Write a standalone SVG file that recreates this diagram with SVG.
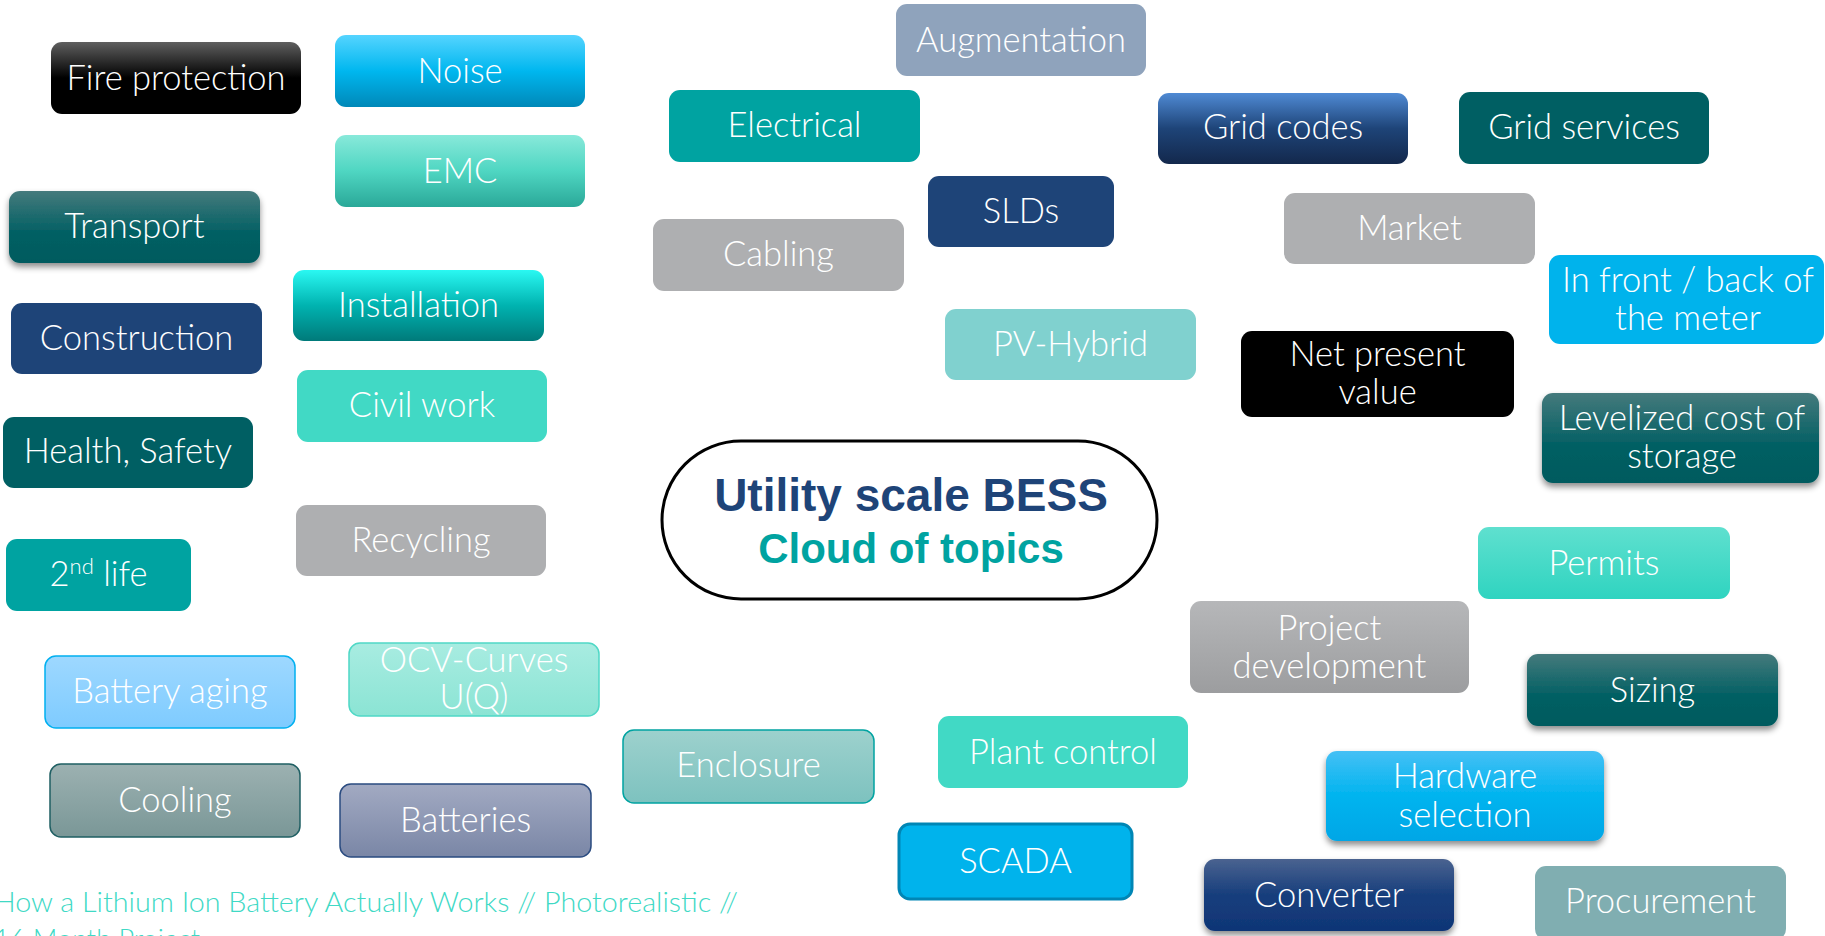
<svg xmlns="http://www.w3.org/2000/svg" width="1825" height="936" viewBox="0 0 1825 936">
<style>
.t{fill:#fff;font-family:Lato,"Liberation Sans",sans-serif;font-weight:300;font-size:34.5px;text-anchor:middle}
.h1{font-family:"Liberation Sans",Arial,sans-serif;font-weight:bold;font-size:46px;fill:#1e4478;text-anchor:middle}
.h2{font-family:"Liberation Sans",Arial,sans-serif;font-weight:bold;font-size:42px;fill:#00a3a1;text-anchor:middle}
.foot{font-family:Lato,"Liberation Sans",sans-serif;font-weight:300;font-size:27px;fill:#40d9c5}
rect{rx:11px;ry:11px}
.sh{filter:url(#shadow)}
</style>
<defs>
<filter id="shadow" x="-10%" y="-20%" width="120%" height="150%"><feDropShadow dx="0" dy="4" stdDeviation="3" flood-color="#000" flood-opacity="0.45"/></filter>
<linearGradient id="gTeal" x1="0" y1="0" x2="0" y2="1"><stop offset="0" stop-color="#457a7c"/><stop offset="0.6" stop-color="#005f63"/><stop offset="1" stop-color="#005a5e"/></linearGradient>
<linearGradient id="gBlack" x1="0" y1="0" x2="0" y2="1"><stop offset="0" stop-color="#5f5f5f"/><stop offset="0.5" stop-color="#000"/><stop offset="1" stop-color="#000"/></linearGradient>
<linearGradient id="gNoise" x1="0" y1="0" x2="0" y2="1"><stop offset="0" stop-color="#55d4ff"/><stop offset="0.5" stop-color="#00b7ef"/><stop offset="1" stop-color="#0088b8"/></linearGradient>
<linearGradient id="gEmc" x1="0" y1="0" x2="0" y2="1"><stop offset="0" stop-color="#88e9da"/><stop offset="0.5" stop-color="#4fd6c2"/><stop offset="1" stop-color="#2aa898"/></linearGradient>
<linearGradient id="gInst" x1="0" y1="0" x2="0" y2="1"><stop offset="0" stop-color="#2af8f2"/><stop offset="0.5" stop-color="#00b3b0"/><stop offset="1" stop-color="#007a7a"/></linearGradient>
<linearGradient id="gAging" x1="0" y1="0" x2="0" y2="1"><stop offset="0" stop-color="#9ed8ff"/><stop offset="1" stop-color="#7ecbff"/></linearGradient>
<linearGradient id="gOcv" x1="0" y1="0" x2="0" y2="1"><stop offset="0" stop-color="#a8ece1"/><stop offset="1" stop-color="#8be4d4"/></linearGradient>
<linearGradient id="gCool" x1="0" y1="0" x2="0" y2="1"><stop offset="0" stop-color="#9cb1b1"/><stop offset="1" stop-color="#7a9797"/></linearGradient>
<linearGradient id="gBatt" x1="0" y1="0" x2="0" y2="1"><stop offset="0" stop-color="#a2aac2"/><stop offset="1" stop-color="#7a86a6"/></linearGradient>
<linearGradient id="gEncl" x1="0" y1="0" x2="0" y2="1"><stop offset="0" stop-color="#9dd1cd"/><stop offset="1" stop-color="#7dc2bf"/></linearGradient>
<linearGradient id="gGrid" x1="0" y1="0" x2="0" y2="1"><stop offset="0" stop-color="#4f8ad4"/><stop offset="0.5" stop-color="#1e4478"/><stop offset="1" stop-color="#13284c"/></linearGradient>
<linearGradient id="gPerm" x1="0" y1="0" x2="0" y2="1"><stop offset="0" stop-color="#5fe0cf"/><stop offset="1" stop-color="#2fd4c0"/></linearGradient>
<linearGradient id="gProj" x1="0" y1="0" x2="0" y2="1"><stop offset="0" stop-color="#b6b7b9"/><stop offset="1" stop-color="#9c9d9f"/></linearGradient>
<linearGradient id="gHw" x1="0" y1="0" x2="0" y2="1"><stop offset="0" stop-color="#45c0f5"/><stop offset="0.5" stop-color="#00b4ef"/><stop offset="1" stop-color="#00a6e6"/></linearGradient>
<linearGradient id="gConv" x1="0" y1="0" x2="0" y2="1"><stop offset="0" stop-color="#4a6390"/><stop offset="0.5" stop-color="#173e7c"/><stop offset="1" stop-color="#0f3576"/></linearGradient>
</defs>
<rect x="0" y="0" width="1825" height="936" fill="#fff" style="rx:0;ry:0"/>
<g id="connectors"></g>
<g id="fire-protection"><rect x="51" y="42" width="250" height="72" fill="url(#gBlack)"/><text class="t" x="176" y="90">Fire protection</text></g>
<g id="noise"><rect x="335" y="35" width="250" height="72" fill="url(#gNoise)"/><text class="t" x="460" y="83">Noise</text></g>
<g id="emc"><rect x="335" y="135" width="250" height="72" fill="url(#gEmc)"/><text class="t" x="460" y="183">EMC</text></g>
<g id="transport"><rect class="sh" x="9" y="191" width="251" height="72" fill="url(#gTeal)"/><text class="t" x="134.5" y="238">Transport</text></g>
<g id="installation"><rect x="293" y="270" width="251" height="71" fill="url(#gInst)"/><text class="t" x="418.5" y="317">Installation</text></g>
<g id="construction"><rect x="11" y="303" width="251" height="71" fill="#1e4478"/><text class="t" x="136.5" y="350">Construction</text></g>
<g id="civil-work"><rect x="297" y="370" width="250" height="72" fill="#41d9c5"/><text class="t" x="422" y="417">Civil work</text></g>
<g id="health-safety"><rect x="3" y="417" width="250" height="71" fill="#005f63"/><text class="t" x="128" y="463">Health, Safety</text></g>
<g id="recycling"><rect x="296" y="505" width="250" height="71" fill="#aeafb1"/><text class="t" x="421" y="552">Recycling</text></g>
<g id="second-life"><rect x="6" y="539" width="185" height="72" fill="#00a3a1"/><text class="t" x="98.5" y="586">2<tspan font-size="22" dy="-12">nd</tspan><tspan dy="12"> life</tspan></text></g>
<g id="battery-aging"><rect x="45" y="656" width="250" height="72" fill="url(#gAging)" stroke="#00b0f0" stroke-width="1.5"/><text class="t" x="170" y="703">Battery aging</text></g>
<g id="ocv-curves"><rect x="349" y="643" width="250" height="73" fill="url(#gOcv)" stroke="#4fd8c6" stroke-width="1.5"/><text class="t" x="474" y="672">OCV-Curves</text><text class="t" x="474" y="709">U(Q)</text></g>
<g id="cooling"><rect x="50" y="764" width="250" height="73" fill="url(#gCool)" stroke="#1f5f63" stroke-width="1.5"/><text class="t" x="175" y="812">Cooling</text></g>
<g id="batteries"><rect x="340" y="784" width="251" height="73" fill="url(#gBatt)" stroke="#2a4b80" stroke-width="1.5"/><text class="t" x="465.5" y="832">Batteries</text></g>
<g id="enclosure"><rect x="623" y="730" width="251" height="73" fill="url(#gEncl)" stroke="#00a3a1" stroke-width="1.5"/><text class="t" x="748.5" y="777">Enclosure</text></g>
<g id="augmentation"><rect x="896" y="4" width="250" height="72" fill="#8fa3bc"/><text class="t" x="1021" y="52">Augmentation</text></g>
<g id="electrical"><rect x="669" y="90" width="251" height="72" fill="#00a3a1"/><text class="t" x="794.5" y="137">Electrical</text></g>
<g id="slds"><rect x="928" y="176" width="186" height="71" fill="#1e4478"/><text class="t" x="1021" y="223">SLDs</text></g>
<g id="cabling"><rect x="653" y="219" width="251" height="72" fill="#aeafb1"/><text class="t" x="778.5" y="266">Cabling</text></g>
<g id="pv-hybrid"><rect x="945" y="309" width="251" height="71" fill="#80d1cf"/><text class="t" x="1070.5" y="356">PV-Hybrid</text></g>
<g id="grid-codes"><rect x="1158" y="93" width="250" height="71" fill="url(#gGrid)"/><text class="t" x="1283" y="139">Grid codes</text></g>
<g id="grid-services"><rect x="1459" y="92" width="250" height="72" fill="#005f63"/><text class="t" x="1584" y="139">Grid services</text></g>
<g id="market"><rect x="1284" y="193" width="251" height="71" fill="#aeafb1"/><text class="t" x="1409.5" y="240">Market</text></g>
<g id="in-front-back"><rect x="1549" y="255" width="275" height="89" fill="#00b3ec"/><text class="t" x="1688" y="292">In front / back of</text><text class="t" x="1688" y="330">the meter</text></g>
<g id="net-present-value"><rect x="1241" y="331" width="273" height="86" fill="#000"/><text class="t" x="1377.5" y="366">Net present</text><text class="t" x="1377.5" y="404">value</text></g>
<g id="levelized-cost"><rect class="sh" x="1542" y="393" width="277" height="90" fill="url(#gTeal)"/><text class="t" x="1682" y="430">Levelized cost of</text><text class="t" x="1682" y="468">storage</text></g>
<g id="permits"><rect x="1478" y="527" width="252" height="72" fill="url(#gPerm)"/><text class="t" x="1604" y="575">Permits</text></g>
<g id="project-development"><rect x="1190" y="601" width="279" height="92" fill="url(#gProj)"/><text class="t" x="1329.5" y="640">Project</text><text class="t" x="1329.5" y="678">development</text></g>
<g id="sizing"><rect class="sh" x="1527" y="654" width="251" height="72" fill="url(#gTeal)"/><text class="t" x="1652.5" y="702">Sizing</text></g>
<g id="hardware-selection"><rect class="sh" x="1326" y="751" width="278" height="90" fill="url(#gHw)"/><text class="t" x="1465" y="788">Hardware</text><text class="t" x="1465" y="827">selection</text></g>
<g id="converter"><rect class="sh" x="1204" y="859" width="250" height="72" fill="url(#gConv)"/><text class="t" x="1329" y="907">Converter</text></g>
<g id="procurement"><rect x="1535" y="866" width="251" height="74" fill="#80aeb1"/><text class="t" x="1660.5" y="913">Procurement</text></g>
<g id="plant-control"><rect x="938" y="716" width="250" height="72" fill="#41d9c5"/><text class="t" x="1063" y="764">Plant control</text></g>
<g id="scada"><rect x="899" y="824" width="233" height="75" fill="#00b3ec" stroke="#0086b5" stroke-width="3"/><text class="t" x="1015.5" y="873">SCADA</text></g>
<g id="center"><rect x="662" y="441" width="495" height="158" fill="#fff" stroke="#000" stroke-width="3" style="rx:79px;ry:79px"/><text class="h1" x="911" y="511">Utility scale BESS</text><text class="h2" x="911" y="563">Cloud of topics</text></g>
<g id="footer"><text class="foot" x="-6" y="912" textLength="744" lengthAdjust="spacingAndGlyphs">How a Lithium Ion Battery Actually Works // Photorealistic //</text><text class="foot" x="-6" y="949" textLength="206" lengthAdjust="spacingAndGlyphs">16 Month Project</text></g>
</svg>
